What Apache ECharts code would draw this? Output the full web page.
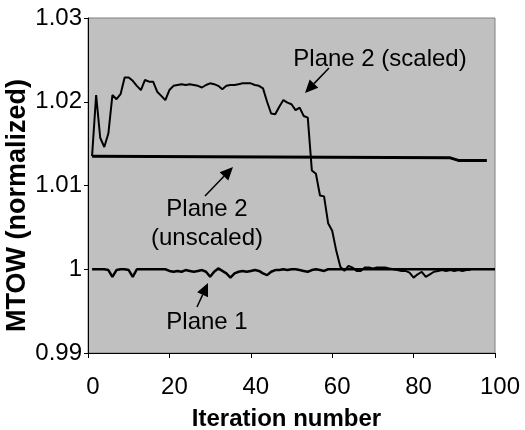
<!DOCTYPE html>
<html>
<head>
<meta charset="utf-8">
<script src="https://cdn.jsdelivr.net/npm/echarts@6/dist/echarts.min.js"></script>
<style>
  html, body { margin: 0; padding: 0; background: #fff; }
  #main { width: 525px; height: 430px; }
</style>
</head>
<body>
<div id="main"></div>
<script>
// iteration numbers / values
var scaledIter = [];
for (var i = 1; i <= 94; i++) scaledIter.push(i);
var scaledVal = [
  1.0135, 1.0208, 1.0157, 1.0146, 1.0162, 1.0208, 1.0203, 1.0209, 1.0229, 1.0229,
  1.0225, 1.0219, 1.0214, 1.0226, 1.0224, 1.0224, 1.0212, 1.0207, 1.0202, 1.0214,
  1.0219, 1.0220, 1.0221, 1.0220, 1.0221, 1.0220, 1.0219, 1.0217, 1.0220, 1.0222,
  1.0221, 1.0219, 1.0215, 1.0219, 1.0220, 1.0220, 1.0221, 1.0222, 1.0222, 1.0222,
  1.0220, 1.0219, 1.0216, 1.0200, 1.0186, 1.0185, 1.0194, 1.0202, 1.0199, 1.0197,
  1.0190, 1.0193, 1.0183, 1.0181, 1.0118, 1.0114, 1.0088, 1.0087, 1.0055, 1.0046,
  1.0022, 1.0003, 0.9998, 1.0004, 1.0002, 0.9998, 0.9998, 1.0002, 1.0002, 1.0001,
  1.0002, 1.0002, 1.0002, 1.0001, 1.0000, 0.9999, 0.9998, 0.9998, 0.9996, 0.9990,
  0.9994, 0.9997, 0.9991, 0.9994, 0.9997, 0.9998, 0.9999, 0.9998, 0.9999, 0.9998,
  0.9999, 0.9998, 0.9999, 0.9999
];

var unscaledIter = [1, 89, 91, 98];
var unscaledVal = [1.0135, 1.0133, 1.0130, 1.0130];

var plane1Iter = [];
for (var j = 1; j <= 100; j++) plane1Iter.push(j);
var plane1Val = [
  1.0000, 1.0000, 1.0000, 1.0000, 0.9999, 0.9991, 0.9999, 1.0000, 1.0000, 0.9999,
  0.9991, 1.0000, 1.0000, 1.0000, 1.0000, 1.0000, 1.0000, 1.0000, 1.0000, 0.9998,
  0.9997, 0.9998, 0.9997, 0.9999, 0.9998, 0.9997, 0.9998, 0.9999, 0.9997, 0.9991,
  0.9997, 1.0001, 0.9998, 0.9995, 0.9990, 0.9995, 0.9997, 0.9998, 0.9997, 0.9998,
  0.9999, 0.9998, 0.9995, 0.9993, 0.9997, 0.9999, 0.9999, 1.0000, 0.9999, 1.0000,
  1.0000, 0.9999, 0.9998, 0.9997, 0.9999, 1.0000, 0.9999, 0.9998, 1.0000, 1.0000,
  1.0000, 1.0000, 1.0000, 1.0000, 1.0000, 1.0000, 1.0000, 1.0000, 1.0000, 1.0000,
  1.0000, 1.0000, 1.0000, 1.0000, 1.0000, 1.0000, 1.0000, 1.0000, 1.0000, 1.0000,
  1.0000, 1.0000, 1.0000, 1.0000, 1.0000, 1.0000, 1.0000, 1.0000, 1.0000, 1.0000,
  1.0000, 1.0000, 1.0000, 1.0000, 1.0000, 1.0000, 1.0000, 1.0000, 1.0000, 1.0000
];

function pairs(xs, ys) {
  return xs.map(function (x, k) { return [x, ys[k]]; });
}

// arrow = shaft line + filled head, tip at (x2, y2)
function arrow(x1, y1, x2, y2) {
  var a = Math.atan2(y2 - y1, x2 - x1), len = 13, w = 6;
  var bx = x2 - len * Math.cos(a), by = y2 - len * Math.sin(a);
  var px = -Math.sin(a) * w, py = Math.cos(a) * w;
  return [
    { type: 'line', shape: { x1: x1, y1: y1, x2: bx, y2: by }, style: { stroke: '#000', lineWidth: 1.5 } },
    { type: 'polygon', shape: { points: [[x2, y2], [bx + px, by + py], [bx - px, by - py]] }, style: { fill: '#000' } }
  ];
}

var font = 'Liberation Sans, Arial, sans-serif';
function label(text, x, y) {
  return { type: 'text', x: x, y: y, style: { text: text, font: '24px ' + font, fill: '#000', textAlign: 'center', textVerticalAlign: 'middle' } };
}

var chart = echarts.init(document.getElementById('main'));
chart.setOption({
  animation: false,
  grid: {
    left: 88, right: 30, top: 18, bottom: 77,
    outerBoundsMode: 'none', containLabel: false,
    show: true, backgroundColor: '#c0c0c0', borderColor: '#808080', borderWidth: 1
  },
  xAxis: {
    type: 'value', min: 0, max: 100, interval: 20,
    name: 'Iteration number', nameLocation: 'middle', nameGap: 54, nameMoveOverlap: false,
    nameTextStyle: { fontFamily: font, fontSize: 24, fontWeight: 'bold', color: '#000', padding: [0, 10, 0, 0] },
    axisLine: { lineStyle: { color: '#000', width: 1 } },
    axisTick: { show: true, length: 5, lineStyle: { color: '#000' } },
    axisLabel: { fontFamily: font, fontSize: 24, color: '#000', margin: 22, padding: [0, 0, 0, 10] },
    splitLine: { show: false }
  },
  yAxis: {
    type: 'value', min: 0.99, max: 1.03, interval: 0.01,
    name: 'MTOW (normalized)', nameLocation: 'middle', nameGap: 57, nameMoveOverlap: false,
    nameTextStyle: { fontFamily: font, fontSize: 27, fontWeight: 'bold', color: '#000', padding: [0, 40, 0, 0] },
    axisLine: { show: true, lineStyle: { color: '#000', width: 1 } },
    axisTick: { show: true, length: 4, lineStyle: { color: '#000' } },
    axisLabel: {
      fontFamily: font, fontSize: 24, color: '#000', margin: 6,
      formatter: function (v) { return String(parseFloat(v.toFixed(2))); }
    },
    splitLine: { show: false }
  },
  series: [
    { name: 'Plane 2 (scaled)', type: 'line', showSymbol: false, data: pairs(scaledIter, scaledVal),
      lineStyle: { color: '#000', width: 2 }, z: 3 },
    { name: 'Plane 2 (unscaled)', type: 'line', showSymbol: false, data: pairs(unscaledIter, unscaledVal),
      lineStyle: { color: '#000', width: 3 }, z: 2 },
    { name: 'Plane 1', type: 'line', showSymbol: false, data: pairs(plane1Iter, plane1Val),
      lineStyle: { color: '#000', width: 2.5 }, z: 2 }
  ],
  graphic: [
    label('Plane 2 (scaled)', 380, 59),
    label('Plane 2', 207, 209),
    label('(unscaled)', 207, 238),
    label('Plane 1', 207, 322)
  ].concat(
    arrow(329, 68, 305, 93),
    arrow(205, 196, 233, 167),
    arrow(197, 307, 208, 283)
  )
});
</script>
</body>
</html>
